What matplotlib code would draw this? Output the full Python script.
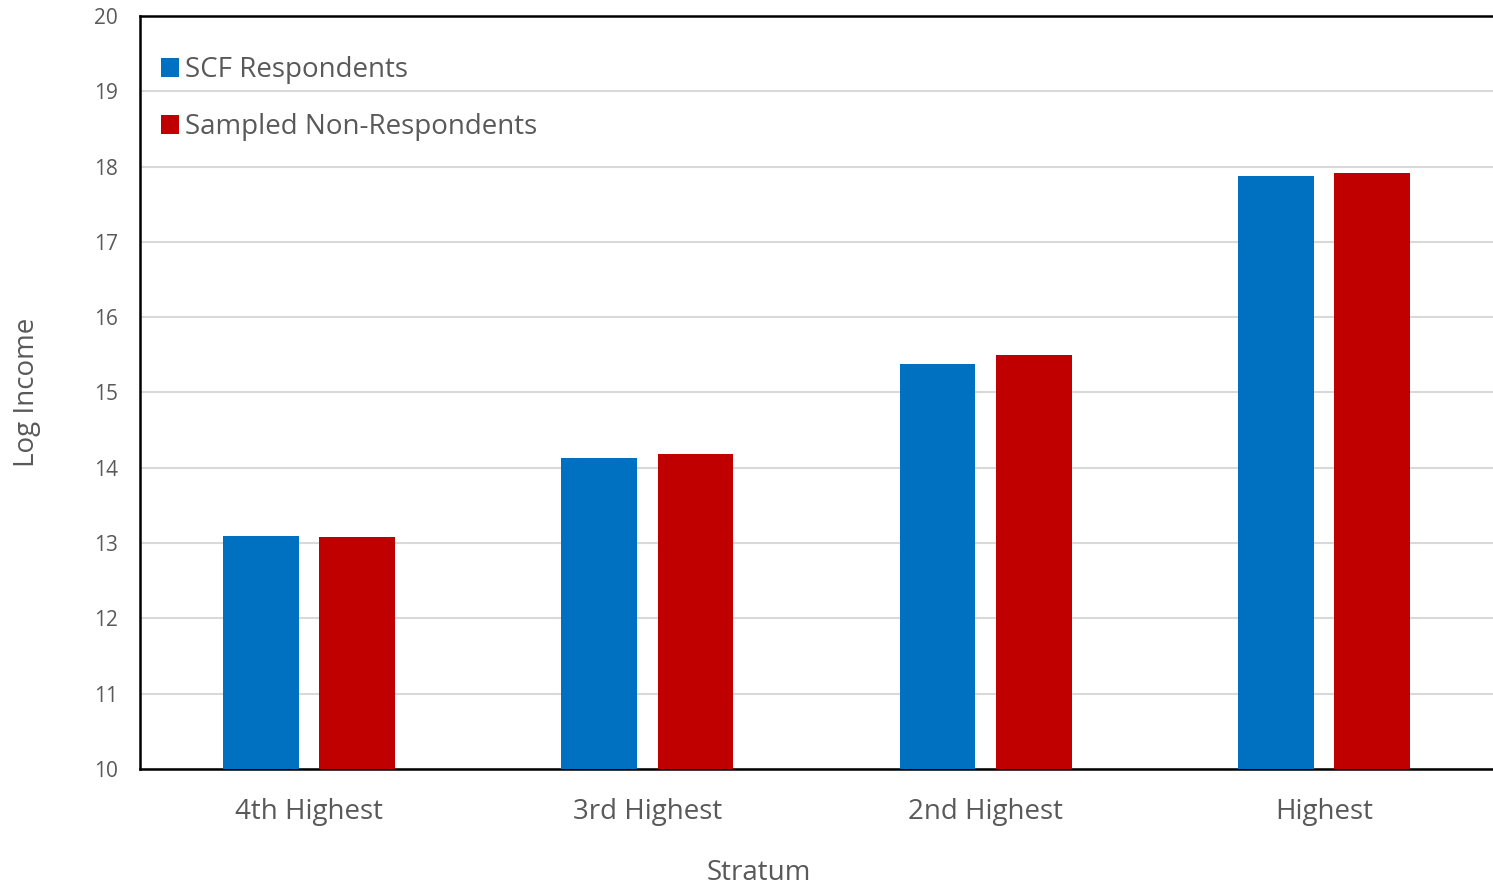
import matplotlib
matplotlib.use('Agg')
import matplotlib.pyplot as plt
import numpy as np

# Data
strata = ['4th Highest', '3rd Highest', '2nd Highest', 'Highest']
respondents = [13.09, 14.13, 15.38, 17.87]
non_respondents = [13.08, 14.18, 15.50, 17.91]

plt.rcParams['font.family'] = ['Open Sans', 'DejaVu Sans']
text_color = '#595959'

fig = plt.figure(figsize=(14.93, 8.86), dpi=100)
ax = fig.add_axes([0.0938, 0.132, 0.9062, 0.850])

x = np.arange(len(strata))
width = 0.224
ax.bar(x - 0.142, np.array(respondents) - 10, width, bottom=10,
       color='#0070C0', label='SCF Respondents', zorder=3)
ax.bar(x + 0.142, np.array(non_respondents) - 10, width, bottom=10,
       color='#C00000', label='Sampled Non-Respondents', zorder=3)

ax.set_xlim(-0.5, 3.5)
ax.set_ylim(10, 20)
ax.set_yticks(range(10, 21))
ax.set_xticks(x)
ax.set_xticklabels(strata)
ax.yaxis.grid(True, color='#d9d9d9', linewidth=1.5, zorder=0)
ax.set_axisbelow(True)

for s in ['left', 'bottom', 'top']:
    ax.spines[s].set_color('black')
    ax.spines[s].set_linewidth(1.8)
ax.spines['right'].set_visible(False)

ax.tick_params(axis='both', length=0, colors=text_color)
ax.tick_params(axis='y', labelsize=15, pad=16)
ax.tick_params(axis='x', labelsize=20, pad=21)

ax.set_xlabel('Stratum', fontsize=20, color=text_color)
ax.xaxis.set_label_coords(0.457, -0.119)
ax.set_ylabel('Log Income', fontsize=20, color=text_color, labelpad=38)

ax.legend(loc='upper left', bbox_to_anchor=(-0.003, 0.980), frameon=False,
          fontsize=20, handlelength=0.65, handleheight=0.65, handletextpad=0.2,
          labelspacing=1.05, labelcolor=text_color)

fig.savefig('out.png', dpi=100)
